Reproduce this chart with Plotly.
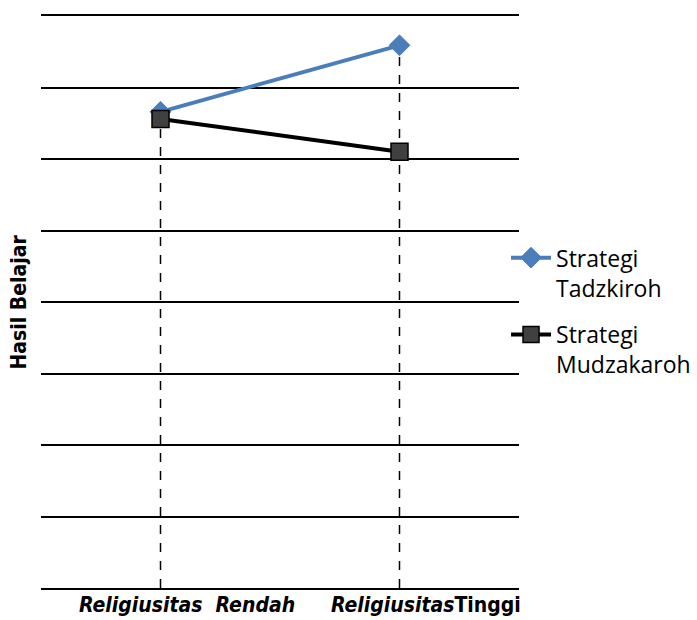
import plotly.graph_objects as go

# Categories and series values
categories = ["Religiusitas Rendah", "Religiusitas Tinggi"]
tadzkiroh = [66.6, 75.9]
mudzakaroh = [65.6, 61.0]
category_labels = [
    "<b><i>Religiusitas  Rendah</i></b>",
    "<b><i>Religiusitas</i>Tinggi</b>",
]

NARROW = "Liberation Sans Narrow, DejaVu Sans Condensed, Arial Narrow, sans-serif"

fig = go.Figure()

# Dashed drop lines from the highest point of each category down to the axis
for cat, a, b in zip(categories, tadzkiroh, mudzakaroh):
    fig.add_shape(
        type="line", xref="x", yref="y",
        x0=cat, x1=cat, y0=0, y1=max(a, b),
        line=dict(color="black", width=1.5, dash="dash"),
        layer="below",
    )

fig.add_trace(go.Scatter(
    x=categories, y=tadzkiroh, mode="lines+markers",
    name="Strategi<br>Tadzkiroh", legendgroup="a",
    line=dict(color="#4a7ebb", width=4),
    marker=dict(symbol="diamond", size=16, color="#4a7ebb",
                line=dict(color="#4a7ebb", width=1)),
))
fig.add_trace(go.Scatter(
    x=categories, y=mudzakaroh, mode="lines+markers",
    name="Strategi<br>Mudzakaroh", legendgroup="b",
    line=dict(color="black", width=4),
    marker=dict(symbol="square", size=17, color="#404040",
                line=dict(color="black", width=1.5)),
))

# Category labels under the axis
for cat, lab in zip(categories, category_labels):
    fig.add_annotation(
        x=cat, y=0, xref="x", yref="y", text=lab, showarrow=False,
        yanchor="top", yshift=-3, xshift=26,
        font=dict(family=NARROW, size=21, color="black"),
    )

fig.update_layout(
    width=697, height=620,
    margin=dict(l=41, r=178, t=16, b=32, autoexpand=False),
    paper_bgcolor="white", plot_bgcolor="white",
    font=dict(family="Open Sans, sans-serif", color="black"),
    legend=dict(
        xref="container", yref="container",
        x=0.726, y=0.619, xanchor="left", yanchor="top", valign="top",
        font=dict(size=23, family="Open Sans, sans-serif", color="black"),
        tracegroupgap=14, itemwidth=40, bgcolor="rgba(0,0,0,0)",
    ),
    annotations=list(fig.layout.annotations) + [
        dict(text="<b>Hasil Belajar</b>", textangle=-90, showarrow=False,
             xref="paper", yref="paper", x=-0.045, y=0.5,
             xanchor="center", yanchor="middle",
             font=dict(family=NARROW, size=21, color="black")),
    ],
)
fig.update_xaxes(
    type="category", showticklabels=False, showgrid=False,
    showline=True, linecolor="black", linewidth=2, ticks="", mirror=True,
    range=[-0.5, 1.5],
)
fig.update_yaxes(
    range=[0, 80], dtick=10, showticklabels=False,
    showgrid=True, gridcolor="black", gridwidth=1.5,
    zeroline=False, showline=False, ticks="",
)

fig.write_html("out.html")
